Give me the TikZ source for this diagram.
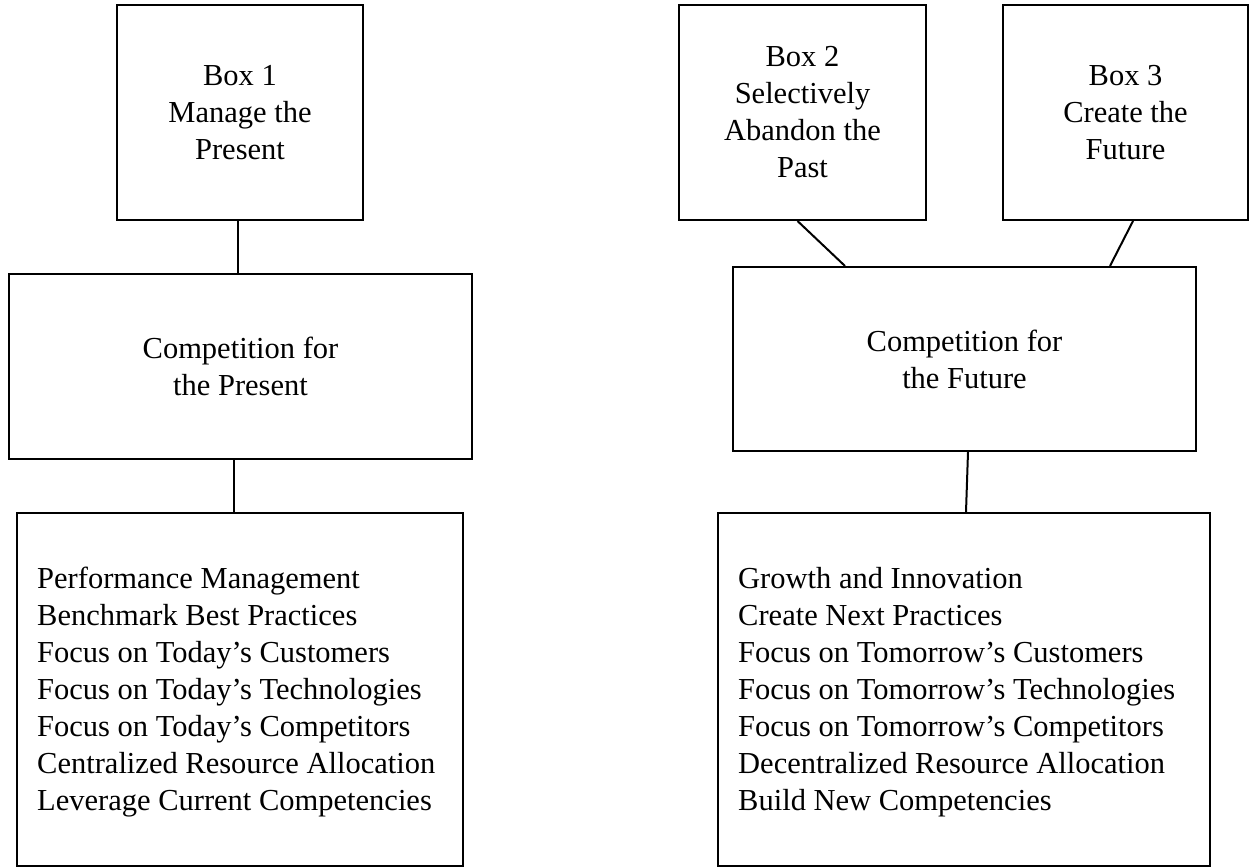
\documentclass[tikz,border=0pt]{standalone}
\usepackage{fontspec}
\setmainfont{Liberation Serif}
\usetikzlibrary{positioning}

\begin{document}
\begin{tikzpicture}[x=1pt, y=-1pt, font=\fontsize{30.5}{37}\selectfont,
  box/.style={draw, line width=2pt, inner sep=0pt, align=center},
  link/.style={line width=2pt},
  list/.style={inner sep=0pt, align=left, anchor=north west}]

  \useasboundingbox (0,0) rectangle (1249,867);

  % Top row
  \node[box, minimum width=246pt, minimum height=215pt] (box1) at (240,112.5) {Box 1\\Manage the\\Present};
  \node[box, minimum width=247pt, minimum height=215pt] (box2) at (802.5,112.5) {Box 2\\Selectively\\Abandon the\\Past};
  \node[box, minimum width=245pt, minimum height=215pt] (box3) at (1125.5,112.5) {Box 3\\Create the\\Future};

  % Middle row
  \node[box, minimum width=463pt, minimum height=185pt] (present) at (240.5,366.5) {Competition for\\the Present};
  \node[box, minimum width=463pt, minimum height=184pt] (future) at (964.5,359) {Competition for\\the Future};

  % Bottom row
  \node[box, minimum width=446pt, minimum height=353pt] (presentbox) at (240,689.5) {};
  \node[box, minimum width=492pt, minimum height=353pt] (futurebox) at (964,689.5) {};

  \node[list] (presentlist) at (37,567) {Performance Management\\Benchmark Best Practices\\Focus on Today’s Customers\\Focus on Today’s Technologies\\Focus on Today’s Competitors\\Centralized Resource Allocation\\Leverage Current Competencies};
  \node[list] (futurelist) at (738,567) {Growth and Innovation\\Create Next Practices\\Focus on Tomorrow’s Customers\\Focus on Tomorrow’s Technologies\\Focus on Tomorrow’s Competitors\\Decentralized Resource Allocation\\Build New Competencies};

  % Links
  \draw[link] ([xshift=-2pt]box1.south) -- ([xshift=-2pt]box1.south |- present.north);
  \draw[link] ([xshift=-7pt]present.south) -- ([xshift=-7pt]present.south |- presentbox.north);
  \draw[link] ([xshift=-5pt]box2.south) -- ([xshift=113pt]future.north west);
  \draw[link] ([xshift=7.5pt]box3.south) -- ([xshift=-87pt]future.north east);
  \draw[link] ([xshift=3.5pt]future.south) -- ([xshift=2pt]futurebox.north);

\end{tikzpicture}
\end{document}
